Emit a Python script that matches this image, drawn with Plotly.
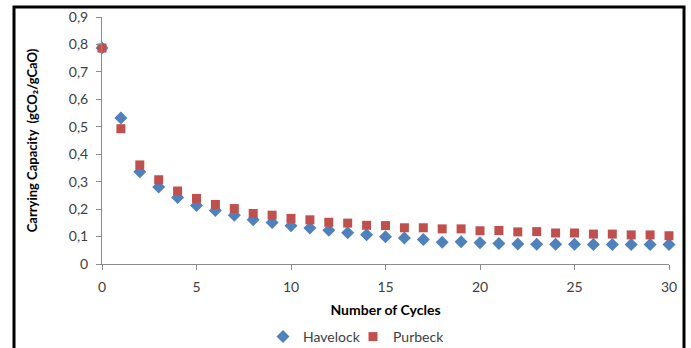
import plotly.graph_objects as go

cycles = list(range(0, 31))
havelock = [0.787, 0.532, 0.336, 0.281, 0.242, 0.213, 0.195, 0.178, 0.161, 0.151, 0.139,
            0.131, 0.123, 0.114, 0.107, 0.099, 0.095, 0.089, 0.079, 0.081, 0.077,
            0.075, 0.073, 0.072, 0.072, 0.072, 0.071, 0.071, 0.071, 0.071, 0.071]
purbeck = [0.787, 0.493, 0.361, 0.307, 0.266, 0.239, 0.217, 0.202, 0.184, 0.178, 0.166,
           0.161, 0.152, 0.149, 0.141, 0.140, 0.132, 0.132, 0.128, 0.128, 0.121,
           0.122, 0.117, 0.118, 0.113, 0.113, 0.109, 0.109, 0.106, 0.106, 0.103]
y_ticks = [0, 0.1, 0.2, 0.3, 0.4, 0.5, 0.6, 0.7, 0.8, 0.9]
y_tick_text = ["0", "0,1", "0,2", "0,3", "0,4", "0,5", "0,6", "0,7", "0,8", "0,9"]
x_ticks = [0, 5, 10, 15, 20, 25, 30]

FONT = "Lato"

fig = go.Figure()
fig.add_trace(go.Scatter(x=cycles, y=havelock, mode="markers", name="Havelock",
                         cliponaxis=False,
                         marker=dict(symbol="diamond", size=10, color="#4F81BD")))
fig.add_trace(go.Scatter(x=cycles, y=purbeck, mode="markers", name="Purbeck",
                         cliponaxis=False,
                         marker=dict(symbol="square", size=9, color="#C0504D")))

L, R, T, B = 102, 22, 17, 84
W, H = 691, 348
pw, ph = W - L - R, H - T - B

def px(xp):
    return (xp - L) / pw

def py(yp):
    return (H - B - yp) / ph

fig.add_shape(type="rect", xref="paper", yref="paper",
              x0=px(14), x1=px(684), y0=py(380), y1=py(7),
              line=dict(color="black", width=3), layer="below")

fig.update_layout(
    width=W, height=H,
    margin=dict(l=L, r=R, t=T, b=B, autoexpand=False),
    paper_bgcolor="white", plot_bgcolor="white",
    font=dict(family=FONT, size=14, color="#404040"),
    showlegend=True,
    legend=dict(orientation="h", xref="container", yref="container",
                x=263 / W, xanchor="left", y=1 - 337 / H, yanchor="middle",
                font=dict(family=FONT, size=14, color="#404040"),
                itemwidth=30, entrywidth=45, tracegroupgap=0, bgcolor="rgba(0,0,0,0)"),
    xaxis=dict(range=[0, 30], tickvals=x_ticks, showgrid=False, zeroline=False,
               automargin=False,
               showline=True, linecolor="#8C8C8C", linewidth=1,
               ticks="outside", ticklen=5, tickcolor="#8C8C8C",
               ticklabelstandoff=5,
               tickfont=dict(family=FONT, size=14, color="#404040"),
               title=dict(text="<b>Number of Cycles</b>", standoff=11,
                          font=dict(family=FONT, size=14, color="black"))),
    yaxis=dict(range=[0, 0.9], tickvals=y_ticks, ticktext=y_tick_text, showgrid=False,
               zeroline=False, automargin=False,
               showline=True, linecolor="#8C8C8C", linewidth=1,
               ticks="outside", ticklen=5, tickcolor="#8C8C8C",
               ticklabelstandoff=5,
               tickfont=dict(family=FONT, size=14, color="#404040"),
               title=dict(text="<b>Carrying Capacity  (gCO\u2082/gCaO)</b>", standoff=28,
                          font=dict(family=FONT, size=13, color="black"))),
)

fig.write_html("out.html")
